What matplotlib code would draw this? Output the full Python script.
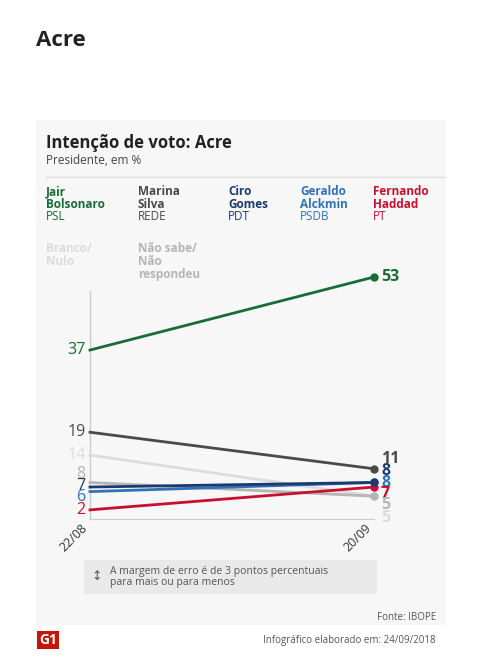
import matplotlib
matplotlib.use("Agg")
import matplotlib.pyplot as plt
from matplotlib.patches import Rectangle

dates = ["22/08", "20/09"]
names = ["Jair\nBolsonaro", "Marina\nSilva", "Ciro\nGomes", "Geraldo\nAlckmin", "Fernando\nHaddad"]
parties = ["PSL", "REDE", "PDT", "PSDB", "PT"]
colors = ["#1a6b35", "#4a4a4a", "#1c3a6e", "#2f72b8", "#c8102e"]
start = [37, 19, 7, 6, 2]
end = [53, 11, 8, 8, 7]
other_names = ["Branco/\nNulo", "Não sabe/\nNão\nrespondeu"]
other_colors = ["#dcdcdc", "#b5b5b5"]
other_start = [14, 8]
other_end = [5, 5]

plt.rcParams['font.family'] = ['Open Sans', 'DejaVu Sans']
fig = plt.figure(figsize=(4.8, 6.65), dpi=100)
fig.patch.set_facecolor("white")
fig.add_artist(Rectangle((36/480, 1-625/665), 410/480, 505/665, transform=fig.transFigure,
                         facecolor="#f7f7f7", edgecolor="none", zorder=0))
fig.text(36/480, 1-40/665, "Acre", fontsize=16, fontweight="bold", color="#222", va="center")
fig.text(46/480, 1-143/665, "Intenção de voto: Acre", fontsize=12, fontweight="bold", color="#222", va="center")
fig.text(46/480, 1-161/665, "Presidente, em %", fontsize=8.5, color="#444", va="center")
fig.add_artist(plt.Line2D([46/480, 444/480], [1-177/665]*2, color="#ddd", lw=1, transform=fig.transFigure))

xs = [46, 138, 228, 300, 373]
for i in range(5):
    fig.text(xs[i]/480, 1-185/665, names[i], fontsize=8.5, fontweight="bold", color=colors[i], va="top", linespacing=1.0)
    fig.text(xs[i]/480, 1-210/665, parties[i], fontsize=8.5, color=colors[i], va="top")
fig.text(46/480, 1-242/665, other_names[0], fontsize=8.5, fontweight="bold", color=other_colors[0], va="top", linespacing=1.0)
fig.text(138/480, 1-242/665, other_names[1], fontsize=8.5, fontweight="bold", color=other_colors[1], va="top", linespacing=1.0)

ax = fig.add_axes([90/480, 1-519/665, 284/480, 242/665])
ax.set_facecolor("none")
ax.set_xlim(0, 1)
ax.set_ylim(0, 53)
for s in ["top", "right", "left"]:
    ax.spines[s].set_visible(False)
ax.spines["bottom"].set_color("#cccccc")
ax.set_yticks([])
ax.set_xticks([0, 1])
ax.set_xticklabels(dates, rotation=45, ha="right", fontsize=9, color="#333")
ax.tick_params(axis="x", length=0, pad=2)
ax.plot([0, 0], [0, 50], color="#cccccc", lw=1, clip_on=False)

for c, a, b in zip(other_colors, other_start, other_end):
    ax.plot([0, 1], [a, b], color=c, lw=2, clip_on=False)
    ax.plot([1], [b], "o", color=c, ms=5, clip_on=False)
order = [1, 0, 4, 3, 2]
for i in order:
    ax.plot([0, 1], [start[i], end[i]], color=colors[i], lw=2, clip_on=False)
    ax.plot([1], [end[i]], "o", color=colors[i], ms=5, clip_on=False)

left_vals = [start[0], start[1], other_start[0], other_start[1], start[2], start[3], start[4]]
left_cols = [colors[0], colors[1], other_colors[0], other_colors[1], colors[2], colors[3], colors[4]]
left_pos = [37, 19, 14, 9.9, 7.3, 4.8, 2]
for v, c, y in zip(left_vals, left_cols, left_pos):
    ax.text(-0.015, y, str(v), color=c, fontsize=11.5, ha="right", va="center")
right_pos = [53, 13.1, 10.5, 7.8, 5.5, 3, 0.3]
right_vals = [end[0], end[1], end[2], end[3], end[4], other_end[1], other_end[0]]
right_cols = [colors[0], colors[1], colors[2], colors[3], colors[4], other_colors[1], other_colors[0]]
for v, c, y in zip(right_vals, right_cols, right_pos):
    ax.text(1.025, y, str(v), color=c, fontsize=11.5, fontweight="bold", ha="left", va="center")

fig.add_artist(Rectangle((84/480, 1-594/665), 293/480, 34/665, transform=fig.transFigure,
                         facecolor="#e9e9e9", edgecolor="none"))
fig.text(97/480, 1-577/665, "↕", fontsize=9, color="#555", va="center", ha="center")
fig.text(110/480, 1-577/665, "A margem de erro é de 3 pontos percentuais\npara mais ou para menos",
         fontsize=7.5, color="#555", va="center", linespacing=1.0)
fig.text(436/480, 1-617/665, "Fonte: IBOPE", fontsize=7, color="#555", ha="right", va="center")
fig.text(48/480, 1-640/665, "G1", fontsize=10, fontweight="bold", color="white", ha="center", va="center",
         bbox=dict(boxstyle="square,pad=0.15", fc="#c4170c", ec="none"))
fig.text(436/480, 1-640/665, "Infográfico elaborado em: 24/09/2018", fontsize=7, color="#555", ha="right", va="center")
fig.savefig("out.png", dpi=100, facecolor="white")
